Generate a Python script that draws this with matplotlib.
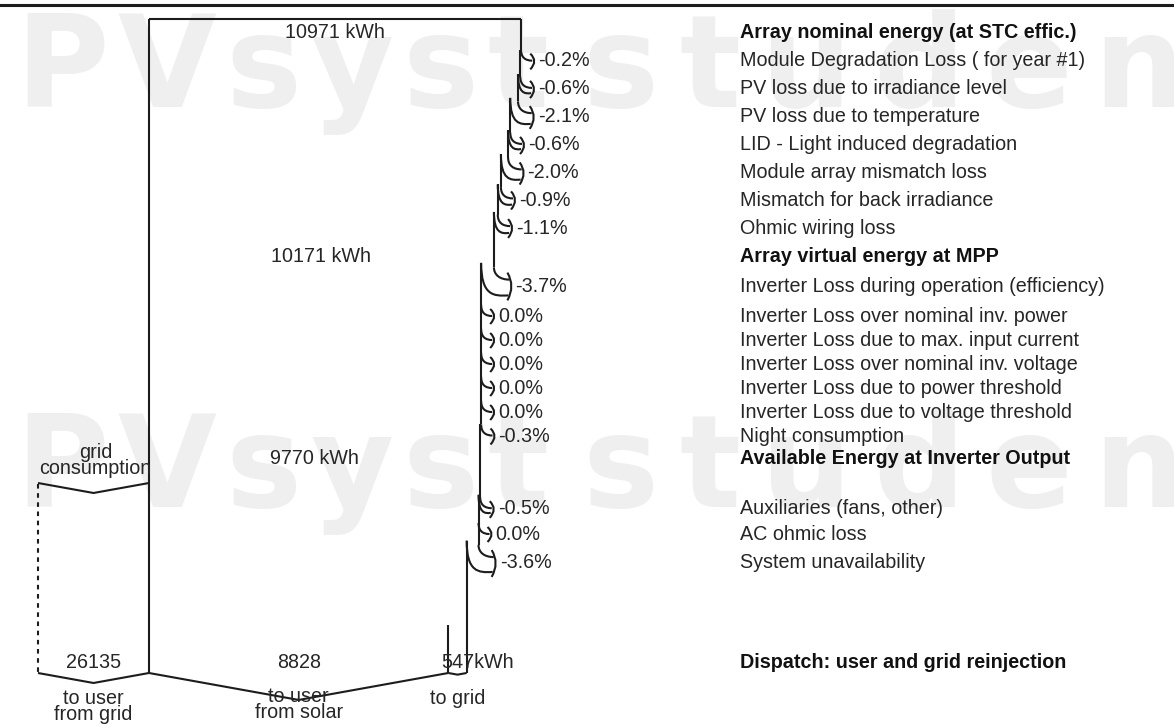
import matplotlib.pyplot as plt
from matplotlib.path import Path
from matplotlib.patches import PathPatch

# energies (kWh)
array_nominal = 10971
array_mpp = 10171
inverter_out = 9770
to_user_grid = 26135
to_user_solar = 8828
to_grid = 547

# losses (%)
array_losses = [-0.2, -0.6, -2.1, -0.6, -2.0, -0.9, -1.1]
inverter_losses = [-3.7, 0.0, 0.0, 0.0, 0.0, 0.0, -0.3]
system_losses = [-0.5, 0.0, -3.6]

row_labels = [
    "Array nominal energy (at STC effic.)",
    "Module Degradation Loss ( for year #1)",
    "PV loss due to irradiance level",
    "PV loss due to temperature",
    "LID - Light induced degradation",
    "Module array mismatch loss",
    "Mismatch for back irradiance",
    "Ohmic wiring loss",
    "Array virtual energy at MPP",
    "Inverter Loss during operation (efficiency)",
    "Inverter Loss over nominal inv. power",
    "Inverter Loss due to max. input current",
    "Inverter Loss over nominal inv. voltage",
    "Inverter Loss due to power threshold",
    "Inverter Loss due to voltage threshold",
    "Night consumption",
    "Available Energy at Inverter Output",
    "Auxiliaries (fans, other)",
    "AC ohmic loss",
    "System unavailability",
    "Dispatch: user and grid reinjection",
]
bold_rows = [0, 8, 16, 20]

# layout (pixels, y downwards)
row_y = [33, 61, 89, 117, 145, 173, 200, 228, 256, 286, 316, 340, 364, 388,
         412, 436, 459, 509, 534, 563, 662]
W, H = 1174, 724
box_left = 149
box_px = 372          # width of 10971 kWh in pixels
box_top = 19
box_bot = 673
k = box_px / array_nominal   # px per kWh

LC = "#1c1c1c"
TC = "#262626"
FS = 14.2
plt.rcParams['font.family'] = ['Liberation Sans', 'DejaVu Sans']

fig = plt.figure(figsize=(W / 100, H / 100), dpi=100)
ax = fig.add_axes([0, 0, 1, 1])
ax.set_xlim(-box_left / k, (W - box_left) / k)
ax.set_ylim(H, 0)
ax.axis('off')


def X(px):
    # pixel column -> kWh axis
    return (px - box_left) / k


def dx(px):
    return px / k


# watermark, letter by letter (it is spaced out in the original)
renderer = fig.canvas.get_renderer()
for yb in [107, 507]:
    for word, x0, track in [("PVsyst", 15, 9), ("student", 582, 21)]:
        xp = x0
        for ch in word:
            t = ax.text(X(xp), yb, ch, fontsize=92, fontweight='bold',
                        family='DejaVu Sans', color='#efefef',
                        va='baseline', ha='left', zorder=0)
            xp += t.get_window_extent(renderer).width + track

# top rule
ax.plot([X(0), X(W)], [5, 5], color=LC, lw=2.2)


def line(xs, ys, **kw):
    kw.setdefault('color', LC)
    kw.setdefault('lw', 1.5)
    ax.plot(xs, ys, solid_capstyle='butt', **kw)


def curve(pts):
    codes = [Path.MOVETO] + [Path.CURVE4] * (len(pts) - 1)
    ax.add_patch(PathPatch(Path(pts, codes), fill=False, ec=LC, lw=1.5))


def loss_arrow(e1, e0, ya, pct):
    band = (e1 - e0) * k
    hb = band / 2
    tip = e1 + dx(13 + band * 0.35)
    r_out = 11 + band * 0.6
    r_in = r_out + 2 + band * 0.2
    curve([(e1, ya - r_out), (e1, ya - hb - r_out * 0.25),
           (e1 + (tip - e1) * 0.35, ya - hb), (tip - dx(2), ya - hb)])
    start = ya - r_out
    if band > 1.2:
        curve([(e0, ya - r_in), (e0, ya + hb + 3),
               (e0 + (tip - e0) * 0.4, ya + hb + 4), (tip - dx(3), ya + hb + 3)])
        start = ya - r_in
    codes = [Path.MOVETO, Path.CURVE3, Path.CURVE3]
    ax.add_patch(PathPatch(Path([(tip - dx(4), ya - hb - 7), (tip + dx(4), ya),
                                 (tip - dx(4), ya + hb + 8)], codes),
                           fill=False, ec=LC, lw=1.5))
    ax.text(tip + dx(4), ya, "%.1f%%" % pct, fontsize=FS, color=TC,
            va='center', ha='left')
    return ya - r_out, start


# right edge of the energy box
groups = [(array_losses, row_y[1:8]), (inverter_losses, row_y[9:16]),
          (system_losses, row_y[17:20])]
edge = array_nominal
seg_top = box_top
for losses, ys in groups:
    for pct, ya in zip(losses, ys):
        new_edge = edge * (1 + pct / 100)
        stop, start = loss_arrow(edge, new_edge, ya, pct)
        line([edge, edge], [seg_top, stop])
        edge = new_edge
        seg_top = start
line([edge, edge], [seg_top, box_bot])

# box top and left edge
line([0, array_nominal], [box_top, box_top])
line([0, 0], [box_top, box_bot])

# energy values inside box
for e, ya in [(array_nominal, row_y[0]), (array_mpp, row_y[8]),
              (inverter_out, row_y[16])]:
    ax.text(e / 2, ya, "%d kWh" % e, fontsize=FS, color=TC,
            ha='center', va='center')

# row labels
for i, (lab, ya) in enumerate(zip(row_labels, row_y)):
    ax.text(X(740), ya, lab, fontsize=FS, color='#111111' if i in bold_rows else TC,
            fontweight='bold' if i in bold_rows else 'normal',
            ha='left', va='center')


def v_bottom(a, b, y):
    depth = 0.18 * (b - a) * k / 2
    line([a, (a + b) / 2, b], [y, y + depth, y])


# dispatch
split = to_user_solar
line([split, split], [625, box_bot])
v_bottom(0, split, box_bot)
v_bottom(split, edge, box_bot)

# grid consumption (not to scale)
gl = X(38)
line([gl, gl], [484, box_bot], ls=(0, (2.2, 2.2)))
v_bottom(gl, 0, 483)
v_bottom(gl, 0, box_bot)
ax.text(gl / 2 + dx(2), 461, "grid\nconsumption", fontsize=FS, color=TC,
        ha='center', va='center', linespacing=0.8)

ax.text(gl / 2, row_y[20], "%d" % to_user_grid, fontsize=FS, color=TC,
        ha='center', va='center')
ax.text(split / 2, row_y[20], "%d" % to_user_solar, fontsize=FS, color=TC,
        ha='center', va='center')
ax.text(split - dx(7), row_y[20], "%dkWh" % to_grid, fontsize=FS, color=TC,
        ha='left', va='center')

ax.text(gl / 2, 707, "to user\nfrom grid", fontsize=FS, color=TC,
        ha='center', va='center', linespacing=0.8)
ax.text(split / 2, 705, "to user\nfrom solar", fontsize=FS, color=TC,
        ha='center', va='center', linespacing=0.8)
ax.text((split + edge) / 2, 698, "to grid", fontsize=FS, color=TC,
        ha='center', va='center')

fig.savefig("out.png", dpi=100)
